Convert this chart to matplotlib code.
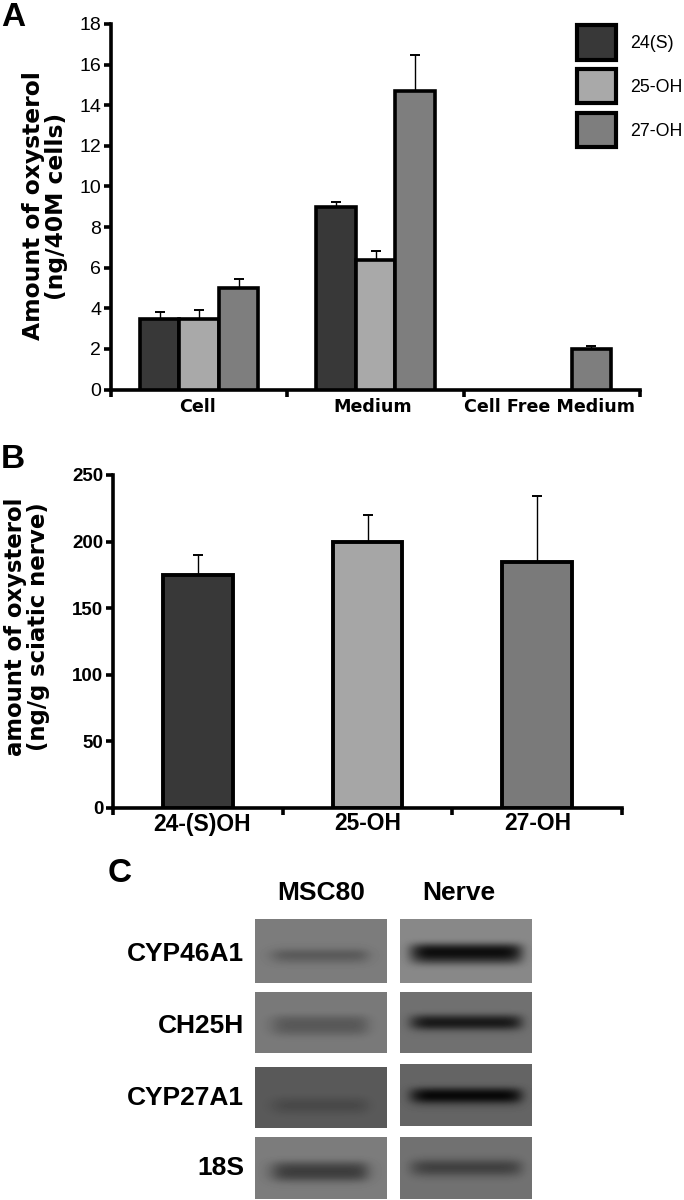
import matplotlib
matplotlib.use("Agg")
import matplotlib.pyplot as plt
from matplotlib.patches import Rectangle
import numpy as np

W, H = 684, 1200

series_a = ["24(S)", "25-OH", "27-OH"]
groups_a = ["Cell", "Medium", "Cell Free Medium"]
vals_a = {
    "24(S)": [3.45, 9.0, np.nan],
    "25-OH": [3.45, 6.4, np.nan],
    "27-OH": [5.0, 14.7, 2.0],
}
errs_a = {
    "24(S)": [0.38, 0.22, np.nan],
    "25-OH": [0.45, 0.4, np.nan],
    "27-OH": [0.45, 1.75, 0.12],
}
yticks_a = [0, 2, 4, 6, 8, 10, 12, 14, 16, 18]

cats_b = ["24-(S)OH", "25-OH", "27-OH"]
vals_b = [175, 200, 185]
errs_b = [15, 20, 49]
yticks_b = [0, 50, 100, 150, 200, 250]

colors = {"24(S)": "#383838", "25-OH": "#a9a9a9", "27-OH": "#7e7e7e"}
colors_b = ["#383838", "#a6a6a6", "#7a7a7a"]

# gel panels: background grey, band darkness across and down the lane
gel_rows = ["CYP46A1", "CH25H", "CYP27A1", "18S"]
gel_cols = ["MSC80", "Nerve"]
bg = [[124, 136], [122, 112], [90, 100], [124, 114]]
peak = [[42, 130], [36, 105], [20, 100], [68, 52]]
across_left = [0, 0.3, 0.9, 1, 1, 1, 1, 1, 1, 1, 0.9, 0.15, 0]
across_right = [0, 0.7, 1, 1, 1, 1, 1, 1, 1, 1, 1, 0.8, 0]
down = [
    [[0, 0, 0, 0, 0.1, 1, 0.5, 0, 0, 0], [0, 0, 0, 0, 0.9, 1, 0.6, 0, 0, 0]],
    [[0, 0, 0, 0, 0.8, 1, 0.8, 0.1, 0, 0], [0, 0, 0, 0, 0.8, 0.9, 0.1, 0, 0, 0]],
    [[0, 0, 0, 0, 0, 0.6, 1, 0.4, 0, 0], [0, 0, 0, 0, 0.9, 1, 0.2, 0, 0, 0]],
    [[0, 0, 0, 0, 0.7, 1, 0.8, 0.1, 0, 0], [0, 0, 0, 0.2, 1, 0.9, 0.2, 0, 0, 0]],
]
gel_left = [(255, 387), (400, 532)]
gel_tops = [[(919, 983), (919, 983)], [(992, 1053), (992, 1053)],
            [(1067, 1128), (1064, 1126)], [(1137, 1199), (1137, 1199)]]
row_y = [954, 1026, 1098, 1168]

SANS = ["Liberation Sans", "DejaVu Sans"]
WIDE = ["DejaVu Sans"]
AX_LW = 2.6


def box(x0, x1, y0, y1):
    # pixel box (y from top) to figure fractions
    return [x0 / W, 1 - y1 / H, (x1 - x0) / W, (y1 - y0) / H]


def txt(fig, x, y, s, **kw):
    kw.setdefault("ha", "center")
    kw.setdefault("va", "center")
    fig.text(x / W, 1 - y / H, s, **kw)


def style_axis(ax, ticks):
    for s in ["top", "right"]:
        ax.spines[s].set_visible(False)
    for s in ["left", "bottom"]:
        ax.spines[s].set_linewidth(AX_LW)
    ax.set_xlim(0, 3)
    ax.set_xticks([0, 1, 2, 3])
    ax.set_xticklabels([])
    ax.set_yticks(ticks)
    ax.tick_params(axis="both", width=AX_LW, length=5, pad=2)


def main():
    fig = plt.figure(figsize=(W / 100, H / 100), dpi=100)

    # A
    ax = fig.add_axes(box(111, 640, 24, 389.5))
    width = 0.224
    for i, name in enumerate(series_a):
        x = np.arange(3) + 0.5 + (i - 1) * width
        ax.bar(x, vals_a[name], width, color=colors[name], edgecolor="black",
               linewidth=2.6, zorder=3)
        ax.errorbar(x, vals_a[name], yerr=[[0, 0, 0], errs_a[name]], fmt="none",
                    ecolor="black", elinewidth=1, capsize=3.5, capthick=1.4, zorder=2)
    ax.set_ylim(0, 18)
    style_axis(ax, yticks_a)
    ax.set_yticklabels(yticks_a, family=SANS, fontsize=14)
    for c, lab in zip([198, 373, 549], groups_a):
        txt(fig, c, 407, lab, family=WIDE, fontweight="bold", fontsize=12.6)
    txt(fig, 45, 206, "Amount of oxysterol\n(ng/40M cells)", rotation=90, family=WIDE,
        fontweight="bold", fontsize=16.8, multialignment="center", linespacing=1.0)

    # legend boxes
    for (y0, y1), name in zip([(25, 60), (69, 103), (113, 147)], series_a):
        ax_box = box(577, 616, y0, y1)
        fig.add_artist(Rectangle((ax_box[0], ax_box[1]), ax_box[2], ax_box[3],
                                 transform=fig.transFigure, facecolor=colors[name],
                                 edgecolor="black", linewidth=3))
        txt(fig, 630, (y0 + y1) / 2 + 1, name, ha="left", family=SANS, fontsize=12.8)

    # B
    ax = fig.add_axes(box(113, 622, 475, 808))
    ax.bar(np.arange(3) + 0.5, vals_b, 0.41, color=colors_b, edgecolor="black",
           linewidth=2.8, zorder=3)
    ax.errorbar(np.arange(3) + 0.5, vals_b, yerr=[[0, 0, 0], errs_b], fmt="none",
                ecolor="black", elinewidth=1, capsize=3.5, capthick=1.4, zorder=2)
    ax.set_ylim(0, 250)
    style_axis(ax, yticks_b)
    ax.set_yticklabels(yticks_b, family=SANS, fontweight="bold", fontsize=13.5)
    for c, lab in zip([202, 368, 538], cats_b):
        txt(fig, c, 824, lab, family=SANS, fontweight="bold", fontsize=16.5)
    txt(fig, 27, 627, "amount of oxysterol\n(ng/g sciatic nerve)", rotation=90, family=WIDE,
        fontweight="bold", fontsize=16.4, multialignment="center", linespacing=1.0)

    # C
    for r in range(4):
        for c in range(2):
            across = across_left if c == 0 else across_right
            img = bg[r][c] - peak[r][c] * np.outer(down[r][c], across)
            y0, y1 = gel_tops[r][c]
            gax = fig.add_axes(box(gel_left[c][0], gel_left[c][1], y0, y1))
            gax.imshow(img, cmap="gray", vmin=0, vmax=255, aspect="auto",
                       interpolation="bicubic")
            gax.axis("off")
        txt(fig, 244, row_y[r], gel_rows[r], ha="right", family=SANS, fontweight="bold", fontsize=19)
    txt(fig, 321, 893, gel_cols[0], family=SANS, fontweight="bold", fontsize=19)
    txt(fig, 459, 893, gel_cols[1], family=SANS, fontweight="bold", fontsize=19)

    # panel letters
    txt(fig, 13, 18, "A", family=SANS, fontweight="bold", fontsize=24)
    txt(fig, 13, 459, "B", family=SANS, fontweight="bold", fontsize=24)
    txt(fig, 120, 873, "C", family=SANS, fontweight="bold", fontsize=24)

    fig.savefig("out.png", dpi=100)


if __name__ == "__main__":
    main()
